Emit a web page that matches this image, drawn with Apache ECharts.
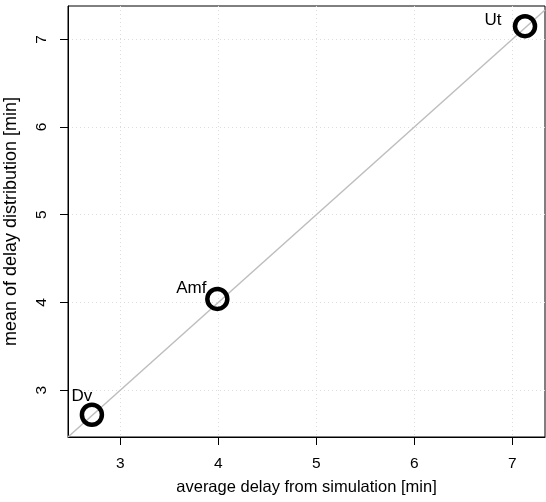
<!DOCTYPE html>
<html>
<head>
<meta charset="utf-8">
<script src="https://cdn.jsdelivr.net/npm/echarts@6/dist/echarts.min.js"></script>
<style>
  html, body { margin: 0; padding: 0; background: #fff; }
  #chart { width: 546px; height: 502px; }
</style>
</head>
<body>
<div id="chart"></div>
<script>
var names = ["Dv", "Amf", "Ut"];
var simDelay = [2.71, 3.99, 7.13];
var meanDelay = [2.72, 4.04, 7.15];
var tickValues = [3, 4, 5, 6, 7];
var xRange = [2.466, 7.334];
var yRange = [2.466, 7.38];

// label placement (px offsets from the point), like R's text() nudging
var labelOffsets = [[-10, -18], [-26, -11], [-32, -6]];

var font = "'Liberation Sans', Arial, Helvetica, sans-serif";

var chart = echarts.init(document.getElementById("chart"));

var points = names.map(function(n, i) {
  return {
    name: n,
    value: [simDelay[i], meanDelay[i]],
    label: { offset: labelOffsets[i] }
  };
});

var option = {
  animation: false,
  grid: {
    left: 68,
    right: 1,
    top: 6,
    bottom: 65,
    outerBoundsMode: "none",
    containLabel: false,
    show: true,
    borderColor: "#000",
    borderWidth: 1,
    backgroundColor: "transparent"
  },
  xAxis: {
    type: "value",
    min: xRange[0],
    max: xRange[1],
    name: "average delay from simulation [min]",
    nameLocation: "middle",
    nameGap: 42,
    nameTextStyle: { fontFamily: font, fontSize: 16.5, color: "#000" },
    axisLine: { show: true, onZero: false, lineStyle: { color: "#000", width: 1 } },
    axisTick: { show: true, length: 8, customValues: tickValues, lineStyle: { color: "#000" } },
    axisLabel: { customValues: tickValues, fontFamily: font, fontSize: 15.5, color: "#000", margin: 19 },
    splitLine: { show: true, lineStyle: { color: "#dcdcdc", type: [1, 3], width: 1 } }
  },
  yAxis: {
    type: "value",
    min: yRange[0],
    max: yRange[1],
    name: "mean of delay distribution [min]",
    nameLocation: "middle",
    nameGap: 48,
    nameTextStyle: { fontFamily: font, fontSize: 18, color: "#000" },
    axisLine: { show: true, onZero: false, lineStyle: { color: "#000", width: 1 } },
    axisTick: { show: true, length: 8, customValues: tickValues, lineStyle: { color: "#000" } },
    axisLabel: { customValues: tickValues, rotate: 90, fontFamily: font, fontSize: 15.5, color: "#000", margin: 18 },
    splitLine: { show: true, lineStyle: { color: "#dcdcdc", type: [1, 3], width: 1 } }
  },
  series: [
    {
      type: "line",
      data: [[xRange[0], xRange[0]], [xRange[1], xRange[1]]],
      symbol: "none",
      lineStyle: { color: "#bebebe", width: 1.5 },
      silent: true,
      z: 1
    },
    {
      type: "scatter",
      data: points,
      symbol: "circle",
      symbolSize: 20,
      itemStyle: { color: "rgba(255,255,255,0)", borderColor: "#000", borderWidth: 4.5, opacity: 1 },
      label: {
        show: true,
        position: "inside",
        formatter: "{b}",
        fontFamily: font,
        fontSize: 17,
        color: "#000"
      },
      z: 3
    }
  ]
};

chart.setOption(option);
</script>
</body>
</html>
